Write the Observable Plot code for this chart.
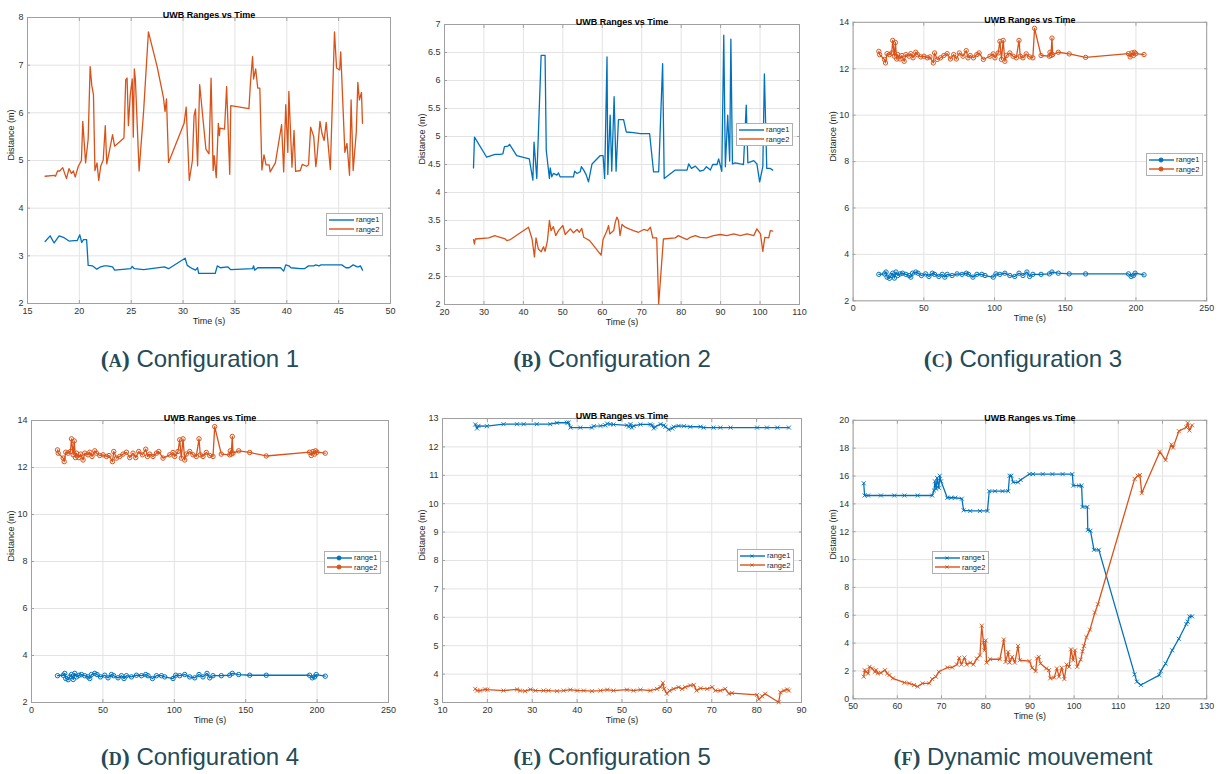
<!DOCTYPE html>
<html>
<head>
<meta charset="utf-8">
<script src="https://cdn.jsdelivr.net/npm/d3@7"></script>
<script src="https://cdn.jsdelivr.net/npm/@observablehq/plot@0.6"></script>
<style>
  html, body { margin: 0; padding: 0; background: #fff; }
  body { width: 1220px; height: 774px; position: relative; overflow: hidden; font-family: "Liberation Sans", Arial, sans-serif; }
  .panel { position: absolute; }
  .panel svg { overflow: visible; }
  .caption { position: absolute; width: 400px; text-align: center; color: #244b58; font-size: 24px; line-height: 28px; white-space: nowrap; }
  .caption .lab { font-family: "Liberation Serif", "DejaVu Serif", serif; font-weight: bold; }
  .caption .lab .sc { font-size: 18px; }
  .legend { position: absolute; background: #fff; border: 1px solid #b0b0b0; font-size: 7.5px; color: #262626; padding: 1px 3px 1px 2px; line-height: 9.5px; }
  .legend div { display: flex; align-items: center; white-space: nowrap; }
  .legend svg { margin-right: 2px; }
</style>
</head>
<body>
<script>
// ---------------- data ----------------
const titleText = "UWB Ranges vs Time";
const xLabelText = "Time (s)";
const yLabelText = "Distance (m)";
const seriesNames = ["range1", "range2"];
const seriesColors = ["#0072BD", "#D95319"];
const captions = [
  ["A", "Configuration 1"], ["B", "Configuration 2"], ["C", "Configuration 3"],
  ["D", "Configuration 4"], ["E", "Configuration 5"], ["F", "Dynamic mouvement"]
];

// Panel A
const aTicksX = [15, 20, 25, 30, 35, 40, 45, 50];
const aTicksY = [2, 3, 4, 5, 6, 7, 8];
const aRange1 = [[16.7,3.30],[17.18,3.42],[17.57,3.27],[18.05,3.42],[18.53,3.38],[19.0,3.31],[19.5,3.32],[19.8,3.32],[20.04,3.44],[20.23,3.28],[20.4,3.34],[20.7,3.34],[20.85,2.80],[21.26,2.79],[21.68,2.72],[22.06,2.77],[22.4,2.79],[22.7,2.79],[23.2,2.77],[23.4,2.70],[24.95,2.73],[25.1,2.78],[25.3,2.73],[26.2,2.71],[28.2,2.77],[28.6,2.73],[30.2,2.95],[30.4,2.80],[30.9,2.73],[31.2,2.70],[31.4,2.75],[31.5,2.63],[33.1,2.63],[33.3,2.79],[33.6,2.75],[34.3,2.77],[34.6,2.71],[36.7,2.73],[36.8,2.79],[36.9,2.70],[37.2,2.75],[39.4,2.75],[39.7,2.68],[39.9,2.81],[40.2,2.79],[40.4,2.75],[41.3,2.73],[41.7,2.73],[42.1,2.79],[42.6,2.79],[42.8,2.81],[43.1,2.79],[43.3,2.81],[45.3,2.81],[45.7,2.75],[46.0,2.75],[46.4,2.81],[46.8,2.77],[46.9,2.77],[47.1,2.79],[47.3,2.70]];
const aRange2 = [[16.7,4.67],[17.57,4.69],[17.7,4.67],[17.9,4.78],[18.1,4.78],[18.4,4.85],[18.6,4.72],[18.76,4.62],[19.0,4.83],[19.24,4.73],[19.43,4.78],[19.6,4.65],[19.9,4.88],[20.2,5.00],[20.33,5.82],[20.6,4.95],[20.85,5.45],[21.04,6.97],[21.2,6.57],[21.36,6.38],[21.5,4.79],[21.7,4.95],[21.87,4.58],[22.06,4.88],[22.3,5.01],[22.5,5.73],[22.64,4.93],[22.87,5.17],[23.2,5.54],[23.4,5.30],[24.3,5.47],[24.47,6.69],[24.6,6.73],[24.73,5.73],[24.9,6.36],[25.1,6.71],[25.2,5.49],[25.3,6.92],[25.4,6.71],[25.76,4.78],[26.2,6.05],[26.66,7.70],[27.5,6.97],[28.1,6.33],[28.26,6.03],[28.4,6.29],[28.6,4.96],[30.1,5.78],[30.3,6.12],[30.6,4.58],[30.9,5.00],[31.06,5.94],[31.2,6.08],[31.4,4.89],[31.6,6.59],[32.2,5.24],[32.5,5.14],[32.7,6.73],[32.9,4.79],[33.0,5.10],[33.2,4.64],[33.4,5.78],[33.5,5.52],[33.56,5.68],[34.0,5.66],[34.2,6.55],[34.5,4.71],[34.6,6.15],[36.35,6.09],[36.5,6.64],[36.7,7.18],[36.8,6.71],[37.0,6.92],[37.2,6.52],[37.4,6.52],[37.6,4.80],[37.8,5.12],[38.0,4.91],[38.3,4.91],[38.4,4.76],[38.9,4.95],[39.5,5.75],[39.7,4.76],[39.9,6.17],[40.1,5.17],[40.2,6.45],[40.5,4.86],[40.7,5.63],[40.85,4.77],[41.3,4.79],[41.5,4.92],[41.9,4.88],[42.1,4.91],[42.3,5.70],[42.6,5.50],[42.8,4.87],[42.9,5.05],[43.2,5.82],[43.4,5.56],[43.6,5.42],[43.8,5.80],[44.2,4.81],[44.6,7.70],[44.8,6.94],[45.1,6.90],[45.2,7.28],[45.6,5.17],[45.8,5.36],[46.05,4.69],[46.2,6.27],[46.4,4.79],[46.7,5.59],[46.85,6.64],[47.0,6.27],[47.2,6.43],[47.3,5.78]];

// Panel B
const bTicksX = [20, 30, 40, 50, 60, 70, 80, 90, 100, 110];
const bTicksY = [2, 2.5, 3, 3.5, 4, 4.5, 5, 5.5, 6, 6.5, 7];
const bRange1 = [[27.35,4.44],[27.6,4.99],[30.7,4.63],[32.8,4.68],[34.1,4.68],[34.8,4.69],[35.2,4.82],[36.1,4.83],[36.5,4.86],[38.3,4.66],[41.5,4.60],[42.4,4.22],[42.7,4.90],[43.4,4.25],[44.5,6.45],[45.5,6.45],[45.8,4.75],[46.6,4.25],[46.8,4.44],[47.2,4.28],[47.6,4.34],[48.5,4.31],[48.9,4.35],[49.3,4.28],[52.7,4.28],[53.0,4.38],[53.6,4.34],[54.4,4.37],[54.7,4.46],[55.3,4.40],[55.9,4.32],[56.5,4.19],[57.4,4.51],[59.5,4.66],[60.2,4.66],[60.6,4.25],[61.2,6.42],[61.4,4.32],[62.0,5.38],[62.4,4.38],[63.0,5.71],[63.5,4.38],[64.1,5.30],[65.4,5.30],[66.1,5.08],[67.9,5.07],[69.6,5.05],[72.0,5.05],[73.0,4.37],[74.3,4.37],[75.3,6.30],[75.7,4.25],[78.5,4.40],[81.5,4.40],[81.9,4.51],[82.6,4.43],[83.6,4.47],[84.8,4.38],[85.7,4.40],[86.4,4.46],[87.4,4.40],[88.0,4.50],[89.1,4.50],[89.5,4.60],[90.3,4.38],[90.8,6.81],[91.2,4.46],[91.8,5.38],[92.3,4.56],[92.6,6.74],[93.0,4.51],[93.7,4.53],[95.0,4.51],[95.8,4.50],[96.5,5.56],[96.9,4.53],[98.4,4.57],[99.2,4.51],[99.9,4.19],[100.7,4.46],[101.1,6.12],[101.7,4.43],[102.6,4.43],[103.2,4.40]];
const bRange2 = [[27.35,3.16],[27.6,3.08],[27.8,3.17],[31.2,3.19],[32.8,3.23],[33.5,3.21],[35.4,3.17],[35.8,3.14],[36.7,3.16],[41.3,3.38],[42.2,3.17],[42.8,2.85],[43.2,3.19],[43.8,2.99],[44.5,2.94],[45.1,3.03],[45.5,2.95],[46.1,3.14],[46.6,3.50],[47.0,3.32],[47.6,3.39],[48.2,3.23],[48.9,3.32],[50.0,3.41],[50.6,3.25],[51.9,3.35],[52.7,3.28],[53.6,3.34],[54.2,3.29],[54.8,3.36],[55.3,3.20],[56.1,3.17],[56.8,3.14],[59.7,2.88],[60.2,3.16],[61.2,3.32],[61.6,3.41],[61.9,3.26],[62.9,3.32],[63.3,3.47],[63.7,3.56],[64.1,3.50],[64.5,3.23],[65.0,3.43],[65.8,3.38],[67.1,3.34],[67.9,3.32],[69.2,3.29],[70.5,3.34],[71.5,3.32],[72.2,3.38],[72.8,3.19],[73.8,3.19],[74.3,2.01],[75.5,3.17],[78.5,3.19],[79.3,3.23],[80.2,3.20],[81.5,3.16],[82.3,3.20],[83.6,3.23],[84.8,3.20],[86.5,3.19],[88.2,3.23],[89.9,3.25],[91.6,3.23],[93.3,3.26],[95.0,3.23],[96.7,3.26],[98.4,3.23],[99.2,3.35],[100.1,3.26],[100.7,2.95],[101.2,3.20],[102.2,3.19],[102.6,3.32],[103.2,3.31]];

// Panels C and D (same recording)
const cTicksX = [0, 50, 100, 150, 200, 250];
const cTicksY = [2, 4, 6, 8, 10, 12, 14];
const cRange1 = [[18.2,3.14],[22.2,3.16],[23.3,3.24],[24.0,3.02],[25.7,2.97],[26.8,3.09],[28.0,3.19],[29.2,2.98],[30.3,3.24],[31.5,3.09],[33.3,3.16],[35.0,3.19],[37.3,3.14],[39.6,3.09],[40.8,3.02],[42.0,3.19],[44.3,3.24],[45.9,3.19],[48.3,3.09],[51.3,3.16],[53.6,3.05],[56.0,3.19],[57.6,3.14],[60.6,3.05],[63.0,3.14],[64.8,3.02],[66.5,3.14],[70.0,3.09],[73.5,3.16],[77.0,3.14],[80.0,3.19],[81.6,3.14],[84.7,3.02],[87.5,3.14],[91.0,3.14],[93.3,3.09],[99.1,3.02],[101.0,3.16],[103.8,3.14],[107.3,3.19],[110.8,3.09],[114.3,3.05],[117.3,3.19],[120.1,3.09],[122.9,3.24],[124.8,3.05],[127.1,3.14],[132.9,3.14],[138.8,3.16],[140.6,3.24],[145.1,3.19],[152.8,3.16],[164.4,3.16],[194.7,3.16],[196.6,3.05],[198.2,3.09],[199.4,3.19],[205.7,3.12]];
const cRange2 = [[18.2,12.75],[18.7,12.61],[22.2,12.40],[22.9,12.25],[24.0,12.65],[25.7,12.61],[27.3,12.68],[28.0,13.22],[29.2,12.54],[29.9,13.13],[30.8,12.42],[31.5,12.61],[33.1,12.42],[34.5,12.57],[36.1,12.32],[37.3,12.61],[39.6,12.54],[40.8,12.65],[42.4,12.47],[44.3,12.71],[45.5,12.61],[47.8,12.51],[50.1,12.54],[52.5,12.47],[54.3,12.51],[56.7,12.25],[57.6,12.68],[59.5,12.40],[61.8,12.47],[64.1,12.57],[66.5,12.65],[68.8,12.42],[71.1,12.61],[73.0,12.42],[75.1,12.68],[77.7,12.54],[80.0,12.78],[81.2,12.47],[82.8,12.57],[85.1,12.47],[87.5,12.61],[89.1,12.68],[92.1,12.40],[96.8,12.54],[99.1,12.64],[100.3,12.47],[102.6,12.68],[103.8,13.18],[104.9,12.40],[106.1,13.22],[107.3,12.32],[108.4,12.57],[110.8,12.68],[113.1,12.54],[115.4,12.47],[117.3,13.22],[118.2,12.54],[120.1,12.47],[122.4,12.64],[124.8,12.51],[127.1,12.47],[128.3,13.74],[132.9,12.57],[138.8,12.54],[139.2,12.71],[139.9,12.57],[140.6,13.32],[141.1,12.61],[145.1,12.71],[152.8,12.64],[164.4,12.49],[194.7,12.65],[195.9,12.51],[197.1,12.68],[198.2,12.57],[198.9,12.71],[199.9,12.65],[205.7,12.61]];
const dRange1 = cRange1;
const dRange2 = cRange2;

// Panel E
const eTicksX = [10, 20, 30, 40, 50, 60, 70, 80, 90];
const eTicksY = [3, 4, 5, 6, 7, 8, 9, 10, 11, 12, 13];
const eRange1 = [[17.3,12.79],[17.7,12.65],[18.0,12.74],[19.9,12.73],[23.6,12.80],[26.6,12.80],[28.1,12.80],[31.0,12.80],[34.0,12.80],[35.5,12.85],[37.7,12.85],[38.1,12.86],[38.5,12.68],[40.7,12.68],[43.3,12.68],[43.7,12.73],[45.2,12.74],[46.3,12.76],[46.7,12.82],[47.4,12.80],[48.1,12.79],[51.1,12.76],[51.5,12.71],[51.9,12.80],[52.2,12.68],[52.6,12.74],[54.1,12.79],[56.3,12.79],[56.7,12.76],[57.1,12.65],[57.4,12.71],[58.6,12.80],[59.3,12.76],[59.7,12.71],[60.4,12.61],[61.2,12.65],[61.5,12.71],[62.6,12.74],[63.8,12.73],[65.2,12.71],[67.5,12.71],[68.2,12.68],[70.4,12.68],[71.9,12.68],[74.2,12.68],[80.1,12.68],[82.3,12.68],[84.6,12.68],[87.2,12.68]];
const eRange2 = [[17.3,3.48],[17.7,3.42],[18.4,3.42],[19.5,3.46],[20.0,3.45],[23.6,3.42],[26.6,3.46],[27.3,3.42],[28.4,3.40],[29.6,3.46],[30.7,3.42],[32.5,3.42],[33.6,3.42],[35.5,3.40],[37.0,3.42],[38.5,3.45],[40.0,3.42],[41.5,3.42],[43.3,3.40],[45.2,3.42],[46.7,3.45],[48.1,3.42],[51.1,3.45],[52.6,3.42],[54.1,3.45],[56.3,3.42],[57.8,3.48],[58.6,3.54],[59.1,3.69],[59.4,3.48],[60.0,3.31],[60.6,3.42],[61.5,3.48],[62.6,3.54],[63.4,3.48],[64.1,3.54],[65.2,3.60],[66.0,3.62],[66.6,3.42],[67.5,3.50],[69.0,3.48],[70.1,3.54],[70.8,3.42],[71.9,3.42],[73.0,3.48],[73.8,3.31],[74.5,3.33],[80.1,3.27],[80.5,3.11],[81.2,3.22],[81.9,3.31],[84.9,3.01],[85.3,3.36],[86.1,3.42],[86.8,3.46],[87.2,3.42]];

// Panel F
const fTicksX = [50, 60, 70, 80, 90, 100, 110, 120, 130];
const fTicksY = [0, 2, 4, 6, 8, 10, 12, 14, 16, 18, 20];
const fRange1 = [[52.4,15.48],[52.6,14.60],[53.4,14.60],[56.3,14.60],[59.3,14.60],[61.6,14.60],[64.6,14.60],[67.9,14.60],[68.3,14.96],[68.5,15.62],[68.8,15.08],[69.0,15.86],[69.4,15.15],[69.6,16.02],[69.9,15.62],[71.3,14.44],[72.2,14.44],[73.1,14.44],[74.6,14.37],[75.0,13.54],[76.5,13.49],[78.7,13.49],[80.4,13.49],[80.8,14.91],[82.1,14.91],[83.8,14.91],[85.1,14.91],[85.4,16.02],[85.8,16.02],[86.2,15.55],[87.3,15.55],[87.9,15.72],[89.9,16.14],[90.7,16.14],[92.9,16.14],[95.1,16.14],[97.4,16.14],[99.6,16.14],[99.8,15.31],[101.1,15.31],[101.7,15.31],[101.9,13.78],[103.0,13.78],[103.1,12.12],[103.7,12.07],[104.5,10.70],[105.6,10.70],[113.7,1.75],[114.2,1.23],[115.1,0.99],[119.3,1.70],[119.6,1.99],[120.7,2.53],[122.2,3.48],[123.7,4.31],[125.4,5.37],[125.7,5.54],[126.1,5.92],[126.7,5.92]];
const fRange2 = [[52.4,1.59],[52.6,2.06],[53.0,1.94],[53.4,1.82],[53.7,2.30],[54.3,2.18],[54.9,1.94],[55.2,2.06],[55.6,1.82],[56.3,1.87],[57.2,2.06],[57.7,1.82],[58.2,1.70],[59.0,1.47],[61.6,1.16],[62.7,1.11],[63.8,0.99],[64.6,0.88],[65.7,1.11],[67.2,1.11],[67.9,1.42],[68.7,1.59],[69.4,1.94],[71.3,2.25],[72.4,2.25],[73.5,2.46],[74.0,2.94],[74.5,2.46],[75.2,2.96],[75.7,2.46],[76.5,2.60],[77.2,2.46],[78.0,2.89],[78.7,3.12],[79.1,5.25],[79.5,4.02],[79.7,3.48],[80.0,4.19],[80.2,2.60],[81.0,2.84],[83.2,2.84],[84.1,4.26],[84.5,2.65],[85.1,3.36],[85.4,2.60],[86.0,3.01],[86.6,2.60],[87.3,3.79],[87.7,2.77],[89.9,2.70],[90.5,2.23],[91.3,1.99],[91.6,2.89],[92.0,3.01],[92.4,2.53],[93.7,2.18],[94.3,2.06],[94.6,1.47],[95.5,1.52],[96.1,2.18],[96.6,1.59],[97.2,2.23],[97.8,1.42],[98.3,2.46],[98.9,2.30],[99.3,3.55],[99.8,2.77],[100.2,3.48],[100.7,2.30],[101.5,2.82],[101.9,3.41],[102.2,3.79],[102.8,4.43],[103.6,4.97],[104.7,6.20],[105.4,6.79],[113.7,15.79],[114.4,16.02],[114.9,16.07],[115.3,14.77],[119.4,17.75],[120.7,17.14],[122.0,18.27],[122.4,18.04],[123.7,19.22],[125.4,19.50],[125.7,19.81],[126.1,19.27],[126.7,19.64]];

// ---------------- layout (frame boxes, px) ----------------
const panels = [
  {frame: [27, 17, 363, 286], xt: aTicksX, yt: aTicksY, r1: aRange1, r2: aRange2, marker: null, yOff: 16, legend: [326, 213], cap: [0, 345]},
  {frame: [444, 24, 355, 280], xt: bTicksX, yt: bTicksY, r1: bRange1, r2: bRange2, marker: null, yOff: 22, legend: [736, 123], cap: [412, 345]},
  {frame: [853, 22, 358, 282], xt: cTicksX, yt: cTicksY, r1: cRange1, r2: cRange2, marker: "circle", yOff: 20, legend: [1146, 153], cap: [823, 345]},
  {frame: [31, 420, 357, 282], xt: cTicksX, yt: cTicksY, r1: dRange1, r2: dRange2, marker: "circle", yOff: 20, legend: [324, 551], cap: [0, 743]},
  {frame: [442, 418, 359, 284], xt: eTicksX, yt: eTicksY, r1: eRange1, r2: eRange2, marker: "times", yOff: 20, legend: [737, 549], cap: [412, 743]},
  {frame: [853, 420, 358, 282], xt: fTicksX, yt: fTicksY, r1: fRange1, r2: fRange2, marker: "times", yOff: 20, legend: [932, 551], cap: [823, 743]}
];

const ML = 30, MR = 14, MT = 14, MB = 28;
const fmt = d => String(d);

function legendSample(color, marker) {
  let m = "";
  if (marker === "circle") m = `<circle cx="12" cy="4" r="2" fill="${color}" stroke="${color}"/>`;
  if (marker === "times") m = `<path d="M10.5,2.5L13.5,5.5M13.5,2.5L10.5,5.5" stroke="${color}" stroke-width="1"/>`;
  return `<svg width="25" height="8"><line x1="0" y1="4" x2="25" y2="4" stroke="${color}" stroke-width="1.4"/>${m}</svg>`;
}

panels.forEach((p, i) => {
  const [fx, fy, fw, fh] = p.frame;
  const data = [
    ...p.r1.map(([t, v]) => ({t, v, s: seriesNames[0]})),
    ...p.r2.map(([t, v]) => ({t, v, s: seriesNames[1]}))
  ];
  const marks = [
    Plot.gridX(p.xt, {stroke: "#e3e3e3", strokeOpacity: 1}),
    Plot.gridY(p.yt, {stroke: "#e3e3e3", strokeOpacity: 1}),
    Plot.frame({stroke: "#a0a0a0"}),
    Plot.axisX(p.xt, {anchor: "bottom", tickSize: 0, tickPadding: 4, tickFormat: fmt, label: null, fontSize: 9, fill: "#333"}),
    Plot.axisY(p.yt, {anchor: "left", tickSize: 0, tickPadding: 4, tickFormat: fmt, label: null, fontSize: 9, fill: "#333"}),
    Plot.axisX(p.xt, {anchor: "bottom", tickSize: -3, tickFormat: () => "", label: null, stroke: "#a0a0a0"}),
    Plot.axisX(p.xt, {anchor: "top", tickSize: -3, tickFormat: () => "", label: null, stroke: "#a0a0a0"}),
    Plot.axisY(p.yt, {anchor: "left", tickSize: -3, tickFormat: () => "", label: null, stroke: "#a0a0a0"}),
    Plot.axisY(p.yt, {anchor: "right", tickSize: -3, tickFormat: () => "", label: null, stroke: "#a0a0a0"}),
    Plot.line(data, {x: "t", y: "v", z: "s", stroke: "s", strokeWidth: 1.3})
  ];
  if (p.marker === "circle") {
    marks.push(Plot.dot(data, {x: "t", y: "v", stroke: "s", fill: "none", r: 2.2, strokeWidth: 1}));
  } else if (p.marker === "times") {
    marks.push(Plot.dot(data, {x: "t", y: "v", stroke: "s", symbol: "times", r: 2, strokeWidth: 0.9}));
  }
  marks.push(
    Plot.text([titleText], {text: d => d, frameAnchor: "top", dy: -5.5, fontWeight: "bold", fontSize: 9, fill: "#000"}),
    Plot.text([xLabelText], {text: d => d, frameAnchor: "bottom", dy: 20, fontSize: 9, fill: "#262626"}),
    Plot.text([yLabelText], {text: d => d, frameAnchor: "left", rotate: -90, dx: -p.yOff, fontSize: 9, fill: "#262626"})
  );
  const chart = Plot.plot({
    width: fw + ML + MR,
    height: fh + MT + MB,
    marginLeft: ML, marginRight: MR, marginTop: MT, marginBottom: MB,
    x: {domain: [p.xt[0], p.xt[p.xt.length - 1]], label: null},
    y: {domain: [p.yt[0], p.yt[p.yt.length - 1]], label: null},
    color: {domain: seriesNames, range: seriesColors},
    style: {fontFamily: "'Liberation Sans', Arial, sans-serif", background: "transparent", overflow: "visible"},
    marks
  });
  const wrap = document.createElement("div");
  wrap.className = "panel";
  wrap.style.left = (fx - ML) + "px";
  wrap.style.top = (fy - MT) + "px";
  wrap.appendChild(chart);
  document.body.appendChild(wrap);

  const lg = document.createElement("div");
  lg.className = "legend";
  lg.style.left = p.legend[0] + "px";
  lg.style.top = p.legend[1] + "px";
  lg.innerHTML = seriesNames.map((n, k) => `<div>${legendSample(seriesColors[k], p.marker)}<span>${n}</span></div>`).join("");
  document.body.appendChild(lg);

  const cap = document.createElement("div");
  cap.className = "caption";
  cap.style.left = p.cap[0] + "px";
  cap.style.top = p.cap[1] + "px";
  const [letter, txt] = captions[i];
  cap.innerHTML = `<span class="lab">(<span class="sc">${letter}</span>)</span> ${txt}`;
  document.body.appendChild(cap);
});
</script>
</body>
</html>
